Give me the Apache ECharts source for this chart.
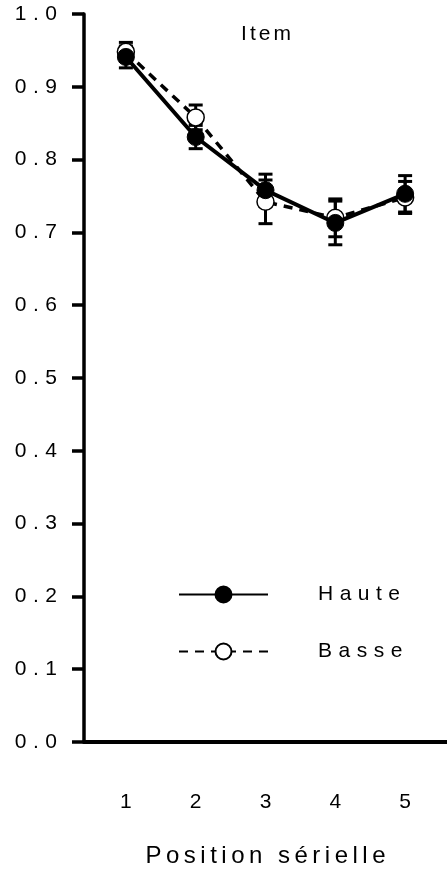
<!DOCTYPE html>
<html><head><meta charset="utf-8">
<script src="https://cdn.jsdelivr.net/npm/echarts@6/dist/echarts.min.js"></script>
<style>html,body{margin:0;padding:0;background:#fff;overflow:hidden}#c{width:447px;height:873px}</style>
</head><body><div id="c"></div>
<script>
var positions = [1, 2, 3, 4, 5];
var hauteMean = [0.941, 0.831, 0.758, 0.713, 0.753];
var hauteErr  = [0.015, 0.016, 0.022, 0.030, 0.025];
var basseMean = [0.948, 0.858, 0.742, 0.720, 0.748];
var basseErr  = [0.013, 0.017, 0.030, 0.026, 0.022];
var titleText = 'Item';
var xName = 'Position sérielle';

var FONT = 'Liberation Sans, Arial, sans-serif';
function spaced(str, first, rest){
  var out = '';
  for (var i = 0; i < str.length; i++) {
    out += '{' + (i === 0 ? first : rest) + '|' + str[i] + '}';
  }
  return out;
}
function richFor(size, gap){
  return {
    f:{fontFamily:FONT, fontSize:size, fontWeight:'normal', color:'#000'},
    g:{fontFamily:FONT, fontSize:size, fontWeight:'normal', color:'#000', padding:[0,0,0,gap]}
  };
}
function pts(m){ return positions.map(function(p,i){ return [p, m[i]]; }); }
function errs(m,e){ return positions.map(function(p,i){ return [p, m[i]-e[i], m[i]+e[i]]; }); }
function errRender(params, api){
  var x = api.value(0), lo = api.value(1), hi = api.value(2);
  var a = api.coord([x, hi]), b = api.coord([x, lo]);
  var hw = 7;
  var st = {stroke:'#000', lineWidth:3};
  return {type:'group', children:[
    {type:'line', shape:{x1:a[0],y1:a[1],x2:b[0],y2:b[1]}, style:st},
    {type:'line', shape:{x1:a[0]-hw,y1:a[1],x2:a[0]+hw,y2:a[1]}, style:st},
    {type:'line', shape:{x1:b[0]-hw,y1:b[1],x2:b[0]+hw,y2:b[1]}, style:st}
  ]};
}
var chart = echarts.init(document.getElementById('c'), null, {width:447, height:873});
chart.setOption({
  animation:false,
  backgroundColor:'#fff',
  title:{text:spaced(titleText,'f','g'), left:261, top:19, textAlign:'center',
    textStyle:{fontFamily:FONT, fontSize:21, fontWeight:'normal', color:'#000', rich:richFor(21, 3)}},
  grid:{left:84, right:-2, top:14, height:728, containLabel:false},
  legend:{data:[{name:'Haute'},{name:'Basse'}], orient:'vertical', left:178, top:584, padding:0,
    itemWidth:89, itemHeight:20, itemGap:36,
    formatter:function(n){ return spaced(n,'f','g'); },
    textStyle:{fontFamily:FONT, fontSize:21, color:'#000', padding:[0,0,0,45], rich:richFor(21, 6.5)}},
  xAxis:{type:'value', min:0.4, max:5.6,
    name:spaced(xName,'f','g'), nameLocation:'middle', nameGap:102,
    nameTextStyle:{fontFamily:FONT, fontSize:24, color:'#000', rich:richFor(24, 4.5)},
    axisLine:{show:true, onZero:false, lineStyle:{color:'#000', width:4}},
    axisTick:{show:false},
    splitLine:{show:false},
    axisLabel:{customValues:positions, margin:50, fontFamily:FONT, fontSize:21, color:'#000'}
  },
  yAxis:{type:'value', min:0, max:1, interval:0.1,
    axisLine:{show:true, onZero:false, lineStyle:{color:'#000', width:3.5}},
    axisTick:{show:true, length:12, lineStyle:{color:'#000', width:3.5}},
    splitLine:{show:false},
    axisLabel:{margin:27, fontFamily:FONT, fontSize:21, color:'#000', rich:richFor(21, 6.5),
      formatter:function(v){ return spaced(v.toFixed(1),'f','g'); }}
  },
  series:[
    {type:'custom', name:'errB', renderItem:errRender, data:errs(basseMean,basseErr), z:1, silent:true},
    {type:'custom', name:'errH', renderItem:errRender, data:errs(hauteMean,hauteErr), z:1, silent:true},
    {type:'line', name:'Basse', data:pts(basseMean), symbol:'circle', symbolSize:17, z:2,
      lineStyle:{color:'#000', width:3.5, type:[9,7]},
      itemStyle:{color:'#fff', borderColor:'#000', borderWidth:1.5}},
    {type:'line', name:'Haute', data:pts(hauteMean), symbol:'circle', symbolSize:17, z:3,
      lineStyle:{color:'#000', width:4},
      itemStyle:{color:'#000', borderColor:'#000', borderWidth:1}}
  ]
});
</script></body></html>
